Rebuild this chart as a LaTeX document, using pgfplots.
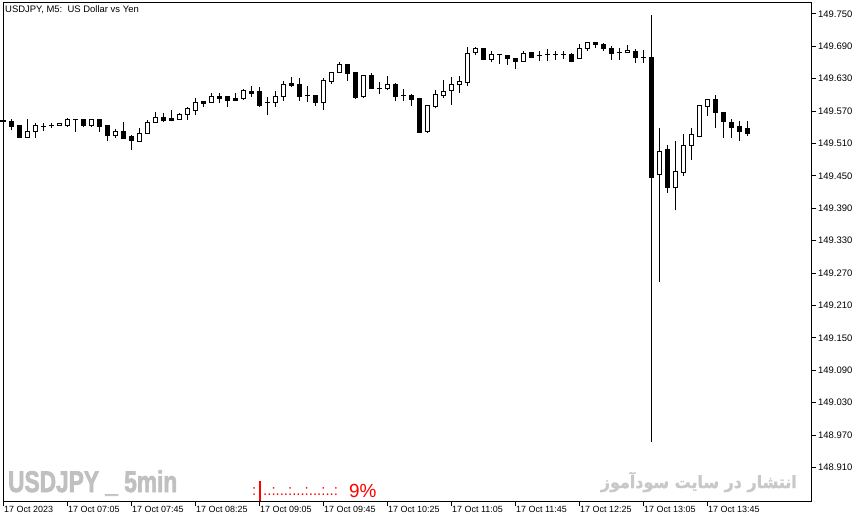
\documentclass[border=0pt]{standalone}
\usepackage{pgfplots}
\pgfplotsset{compat=1.18}
\usepackage{pgfplotstable}
\usepackage{fontspec}
\setmainfont{Liberation Sans}[BoldFont={Liberation Sans Bold}]
\newfontfamily\wmfont[FakeBold=2.5]{Liberation Sans Bold}
\newfontfamily\arabicfont[Script=Arabic, FakeBold=1.5]{DejaVu Sans Bold}
\TeXXeTstate=1
\definecolor{wm}{RGB}{192,192,192}
\definecolor{wmfa}{RGB}{200,200,200}
\definecolor{mtred}{RGB}{255,0,0}

% white (bullish) candles and dojis
\pgfplotstableread{
x O H L C
3 149.521 149.556 149.521 149.533
4 149.533 149.547 149.520 149.543
5 149.541 149.547 149.533 149.541
6 149.543 149.547 149.538 149.543
7 149.543 149.547 149.543 149.547
8 149.544 149.557 149.541 149.554
9 149.554 149.555 149.531 149.554
11 149.544 149.556 149.541 149.554
14 149.525 149.536 149.520 149.533
17 149.514 149.538 149.512 149.529
18 149.529 149.554 149.529 149.548
19 149.548 149.569 149.548 149.558
22 149.555 149.566 149.555 149.564
23 149.564 149.578 149.554 149.575
24 149.571 149.594 149.562 149.586
26 149.585 149.603 149.585 149.596
30 149.593 149.611 149.591 149.608
33 149.586 149.596 149.562 149.586
34 149.586 149.607 149.578 149.596
35 149.596 149.626 149.589 149.620
38 149.598 149.617 149.586 149.598
40 149.585 149.631 149.571 149.626
41 149.625 149.642 149.620 149.642
42 149.642 149.660 149.642 149.656
45 149.597 149.635 149.594 149.635
47 149.612 149.623 149.601 149.612
48 149.611 149.635 149.608 149.620
50 149.598 149.611 149.589 149.598
53 149.532 149.580 149.530 149.580
54 149.578 149.609 149.575 149.600
55 149.599 149.628 149.595 149.607
56 149.608 149.633 149.581 149.620
57 149.620 149.634 149.604 149.625
58 149.622 149.689 149.617 149.676
59 149.678 149.689 149.674 149.685
61 149.665 149.682 149.661 149.675
62 149.674 149.675 149.657 149.674
65 149.662 149.681 149.661 149.676
67 149.672 149.681 149.662 149.672
68 149.674 149.684 149.662 149.674
69 149.674 149.681 149.664 149.674
70 149.674 149.681 149.667 149.674
72 149.667 149.694 149.667 149.686
73 149.685 149.696 149.682 149.696
77 149.678 149.686 149.664 149.678
78 149.678 149.693 149.678 149.682
80 149.670 149.683 149.659 149.670
82 149.452 149.539 149.254 149.495
84 149.429 149.514 149.386 149.458
85 149.457 149.528 149.450 149.507
86 149.506 149.539 149.480 149.527
87 149.523 149.580 149.521 149.580
88 149.578 149.592 149.560 149.592
}\wht

% black (bearish) candles
\pgfplotstableread{
x O H L C
0 149.553 149.554 149.550 149.551
1 149.551 149.556 149.534 149.541
2 149.543 149.544 149.520 149.521
10 149.554 149.556 149.540 149.544
12 149.554 149.556 149.532 149.541
13 149.543 149.543 149.514 149.525
15 149.533 149.549 149.519 149.519
16 149.523 149.526 149.498 149.515
20 149.558 149.566 149.549 149.553
21 149.557 149.572 149.551 149.553
25 149.588 149.589 149.578 149.583
27 149.596 149.603 149.585 149.593
28 149.596 149.596 149.578 149.589
29 149.593 149.603 149.588 149.589
31 149.607 149.616 149.596 149.602
32 149.606 149.614 149.578 149.581
36 149.621 149.633 149.614 149.617
37 149.620 149.631 149.589 149.597
39 149.598 149.598 149.580 149.585
43 149.656 149.657 149.626 149.640
44 149.641 149.641 149.593 149.595
46 149.635 149.641 149.612 149.612
49 149.620 149.622 149.588 149.597
51 149.598 149.602 149.580 149.591
52 149.593 149.593 149.529 149.530
60 149.686 149.687 149.664 149.665
63 149.672 149.672 149.656 149.667
64 149.667 149.669 149.647 149.662
66 149.678 149.680 149.669 149.670
71 149.675 149.678 149.661 149.662
74 149.696 149.696 149.687 149.693
75 149.693 149.696 149.682 149.686
76 149.686 149.690 149.664 149.676
79 149.681 149.684 149.659 149.669
81 149.670 149.748 148.957 149.446
83 149.498 149.507 149.419 149.429
89 149.592 149.600 149.538 149.567
90 149.568 149.568 149.520 149.551
91 149.549 149.556 149.520 149.539
92 149.541 149.551 149.515 149.532
93 149.537 149.552 149.523 149.528
}\blk

\begin{document}
\begin{tikzpicture}
\useasboundingbox (0,0) rectangle (866bp,522bp);
\begin{axis}[
  at={(3bp,21bp)}, anchor=south west,
  scale only axis, width=808bp, height=498bp,
  xmin=0, xmax=101, ymin=148.848, ymax=149.770,
  axis line style={line width=1bp, black},
  tick align=outside, major tick length=5bp,
  tick style={line width=1bp, black},
  xtick pos=bottom, ytick pos=right,
  xtick={0,8,16,24,32,40,48,56,64,72,80,88},
  xticklabels={17 Oct 2023,17 Oct 07:05,17 Oct 07:45,17 Oct 08:25,17 Oct 09:05,17 Oct 09:45,17 Oct 10:25,17 Oct 11:05,17 Oct 11:45,17 Oct 12:25,17 Oct 13:05,17 Oct 13:45},
  ytick={148.91,148.97,149.03,149.09,149.15,149.21,149.27,149.33,149.39,149.45,149.51,149.57,149.63,149.69,149.75},
  yticklabels={148.910,148.970,149.030,149.090,149.150,149.210,149.270,149.330,149.390,149.450,149.510,149.570,149.630,149.690,149.750},
  xticklabel style={anchor=north west, inner sep=0pt, xshift=1bp, font=\fontsize{9}{10}\selectfont},
  yticklabel style={anchor=west, inner sep=0pt, xshift=2bp, font=\fontsize{9.5}{10}\selectfont},
  clip=true,
  candle/.style={draw=none, mark=none, forget plot,
    error bars/.cd, y dir=plus, y explicit, error mark=none},
  edge/.style={only marks, mark=-, mark size=2.5bp,
    mark options={line width=1bp, draw=black, solid}, forget plot},
]
% wicks
\addplot[candle, error bar style={draw=black, line width=1bp}]
  table[x=x, y=L, y error plus expr=\thisrow{H}-\thisrow{L}] \wht;
\addplot[candle, error bar style={draw=black, line width=1bp}]
  table[x=x, y=L, y error plus expr=\thisrow{H}-\thisrow{L}] \blk;
% black bodies
\addplot[candle, error bar style={draw=black, line width=5bp}]
  table[x=x, y=C, y error plus expr=\thisrow{O}-\thisrow{C}] \blk;
% white bodies: black outline then white inside
\addplot[candle, error bar style={draw=black, line width=5bp}]
  table[x=x, y=O, y error plus expr=\thisrow{C}-\thisrow{O}] \wht;
\addplot[candle, error bar style={draw=white, line width=3bp}]
  table[x=x, y=O, y error plus expr=\thisrow{C}-\thisrow{O}] \wht;
% body edges
\addplot[edge] table[x=x, y=O] \wht;
\addplot[edge] table[x=x, y=C] \wht;
\addplot[edge] table[x=x, y=O] \blk;
\addplot[edge] table[x=x, y=C] \blk;
\end{axis}
% title
\node[anchor=west, inner sep=0pt, font=\fontsize{9.5}{10}\selectfont] at (5bp,512bp) {USDJPY, M5:\ \ US Dollar vs Yen};
% watermarks
\node[anchor=base west, inner sep=0pt, text=wm, font=\wmfont\fontsize{30}{30}\selectfont, xscale=0.76] at (8bp,30bp) {USDJPY \_ 5min};
\node[anchor=east, inner sep=0pt, text=wmfa, font=\arabicfont\fontsize{17}{17}\selectfont, xscale=0.94] at (797bp,40bp) {\beginR انتشار در سایت سودآموز\endR};
% red progress text
\node[anchor=base west, inner sep=0pt, text=mtred, font=\fontsize{15}{15}\selectfont] at (252bp,27bp) {:};
\draw[mtred, line width=2bp] (260bp,21bp) -- (260bp,41bp);
\node[anchor=base west, inner sep=0pt, text=mtred, font=\fontsize{15}{15}\selectfont] at (263bp,27bp) {..:...:...:...:..:};
\node[anchor=base west, inner sep=0pt, text=mtred, font=\fontsize{19}{19}\selectfont] at (349bp,25bp) {9\%};
\end{tikzpicture}
\end{document}
